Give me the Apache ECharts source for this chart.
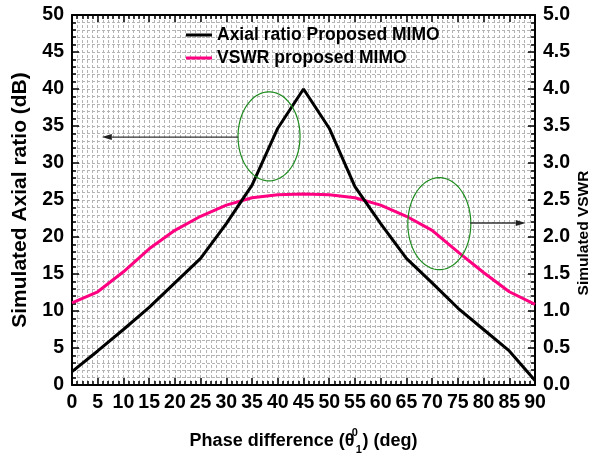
<!DOCTYPE html>
<html>
<head>
<meta charset="utf-8">
<script src="https://cdn.jsdelivr.net/npm/echarts@6/dist/echarts.min.js"></script>
<style>
html, body { margin: 0; padding: 0; background: #fff; }
#chart { width: 592px; height: 456px; }
</style>
</head>
<body>
<div id="chart"></div>
<script>
// values
var phase = [0, 5, 10, 15, 20, 25, 30, 35, 40, 45, 50, 55, 60, 65, 70, 75, 80, 85, 90];
var axialRatio = [1.8, 4.6, 7.5, 10.5, 13.8, 17.1, 21.8, 27, 34.7, 40, 34.7, 26.8, 21.8, 17.1, 13.8, 10.4, 7.5, 4.6, 0.6];
var vswr = [1.11, 1.26, 1.53, 1.84, 2.09, 2.28, 2.43, 2.53, 2.57, 2.58, 2.57, 2.53, 2.43, 2.28, 2.09, 1.8, 1.52, 1.26, 1.09];
var seriesNames = ["Axial ratio Proposed MIMO", "VSWR proposed MIMO"];

// annotation anchors, in axis units (deg, dB)
var ellipseLeft = { x: 38.3, y: 33.6, rx: 31, ry: 44.5 };
var arrowLeft = { from: [32.3, 33.5], to: [5.8, 33.5] };
var ellipseRight = { x: 71.4, y: 21.8, rx: 31.5, ry: 46 };
var arrowRight = { from: [77.4, 21.9], to: [88.2, 21.9] };

var FONT = "'Liberation Sans', Arial, sans-serif";
var gridColor = "#b4b4b4";

function pairs(xs, ys) {
  return xs.map(function (x, i) {
    return [x, ys[i]];
  });
}

var chart = echarts.init(document.getElementById("chart"));

var gridLine = { show: true, lineStyle: { color: gridColor, width: 1, type: [3, 2] } };
var tickStyle = { color: "#000", width: 1.5 };
var labelStyle = { fontFamily: FONT, fontSize: 19.5, fontWeight: "bold", color: "#000", margin: 8 };

var option = {
  animation: false,
  backgroundColor: "#fff",
  grid: { left: 72, right: 57, top: 15, bottom: 71, containLabel: false, outerBoundsMode: "none" },
  legend: {
    orient: "vertical",
    left: 186,
    top: 25,
    padding: 0,
    icon: "rect",
    itemWidth: 26,
    itemHeight: 3,
    itemGap: 3,
    textStyle: { fontFamily: FONT, fontSize: 17.5, fontWeight: "bold", color: "#000", lineHeight: 20 },
    data: seriesNames,
  },
  xAxis: [
    {
      type: "value",
      min: 0,
      max: 90,
      interval: 5,
      position: "bottom",
      name: "{t|Phase difference (θ}{sup|0}{sub|1}{t|) (deg)}",
      nameLocation: "middle",
      nameGap: 42,
      nameTextStyle: {
        rich: {
          t: { fontFamily: FONT, fontSize: 18, fontWeight: "bold", color: "#000", lineHeight: 28 },
          sup: { fontFamily: FONT, fontSize: 11, fontWeight: "bold", color: "#000", verticalAlign: "top", width: 1 },
          sub: { fontFamily: FONT, fontSize: 11, fontWeight: "bold", color: "#000", verticalAlign: "bottom", width: 7 },
        },
      },
      axisLine: { show: true, onZero: false, lineStyle: { color: "#000", width: 2 } },
      axisTick: { show: true, inside: true, length: 7, lineStyle: tickStyle },
      minorTick: { show: true, splitNumber: 5, length: 4, lineStyle: tickStyle },
      axisLabel: labelStyle,
      splitLine: gridLine,
      minorSplitLine: gridLine,
    },
    {
      type: "value",
      min: 0,
      max: 90,
      interval: 5,
      position: "top",
      axisLine: { show: true, onZero: false, lineStyle: { color: "#000", width: 2 } },
      axisTick: { show: true, inside: true, length: 7, lineStyle: tickStyle },
      minorTick: { show: true, splitNumber: 5, length: 4, lineStyle: tickStyle },
      axisLabel: { show: false },
      splitLine: { show: false },
    },
  ],
  yAxis: [
    {
      type: "value",
      min: 0,
      max: 50,
      interval: 5,
      position: "left",
      name: "Simulated Axial ratio (dB)",
      nameLocation: "middle",
      nameGap: 41,
      nameMoveOverlap: false,
      nameTextStyle: { fontFamily: FONT, fontSize: 21, fontWeight: "bold", color: "#000" },
      axisLine: { show: true, onZero: false, lineStyle: { color: "#000", width: 2 } },
      axisTick: { show: true, inside: true, length: 7, lineStyle: tickStyle },
      minorTick: { show: true, splitNumber: 5, length: 4, lineStyle: tickStyle },
      axisLabel: labelStyle,
      splitLine: gridLine,
      minorSplitLine: gridLine,
    },
    {
      type: "value",
      min: 0,
      max: 5,
      interval: 0.5,
      position: "right",
      name: "Simulated VSWR",
      nameLocation: "middle",
      nameRotate: 90,
      nameGap: 41,
      nameMoveOverlap: false,
      nameTextStyle: { fontFamily: FONT, fontSize: 15.5, fontWeight: "bold", color: "#000", padding: [0, 66, 0, 0] },
      axisLine: { show: true, onZero: false, lineStyle: { color: "#000", width: 2 } },
      axisTick: { show: true, inside: true, length: 7, lineStyle: tickStyle },
      minorTick: { show: true, splitNumber: 5, length: 4, lineStyle: tickStyle },
      axisLabel: Object.assign({}, labelStyle, {
        formatter: function (v) {
          return v.toFixed(1);
        },
      }),
      splitLine: { show: false },
    },
  ],
  series: [
    {
      name: seriesNames[0],
      type: "line",
      xAxisIndex: 0,
      yAxisIndex: 0,
      symbol: "none",
      data: pairs(phase, axialRatio),
      lineStyle: { color: "#000", width: 3 },
      itemStyle: { color: "#000" },
      z: 3,
    },
    {
      name: seriesNames[1],
      type: "line",
      xAxisIndex: 0,
      yAxisIndex: 1,
      symbol: "none",
      data: pairs(phase, vswr),
      lineStyle: { color: "#ff0080", width: 3 },
      itemStyle: { color: "#ff0080" },
      z: 2,
    },
  ],
};

chart.setOption(option);

// circles and arrows pointing to each curve's axis
function toPx(p) {
  return chart.convertToPixel({ xAxisIndex: 0, yAxisIndex: 0 }, p);
}

function ellipse(e) {
  var c = toPx([e.x, e.y]);
  var pts = [];
  for (var i = 0; i <= 90; i++) {
    var a = (i / 90) * Math.PI * 2;
    pts.push([c[0] + e.rx * Math.cos(a), c[1] + e.ry * Math.sin(a)]);
  }
  return {
    type: "polyline",
    shape: { points: pts },
    style: { stroke: "#1e8c1e", lineWidth: 1.2, fill: null },
    z: 10,
  };
}

function arrow(a) {
  var p0 = toPx(a.from);
  var p1 = toPx(a.to);
  var dir = p1[0] > p0[0] ? 1 : -1;
  var head = 10;
  return [
    {
      type: "line",
      shape: { x1: p0[0], y1: p0[1], x2: p1[0] - dir * head, y2: p1[1] },
      style: { stroke: "#333", lineWidth: 1.4 },
      z: 10,
    },
    {
      type: "polygon",
      shape: {
        points: [
          [p1[0], p1[1]],
          [p1[0] - dir * head, p1[1] - 3],
          [p1[0] - dir * head, p1[1] + 3],
        ],
      },
      style: { fill: "#222" },
      z: 10,
    },
  ];
}

chart.setOption({
  graphic: [ellipse(ellipseLeft), ellipse(ellipseRight)]
    .concat(arrow(arrowLeft))
    .concat(arrow(arrowRight)),
});
</script>
</body>
</html>
